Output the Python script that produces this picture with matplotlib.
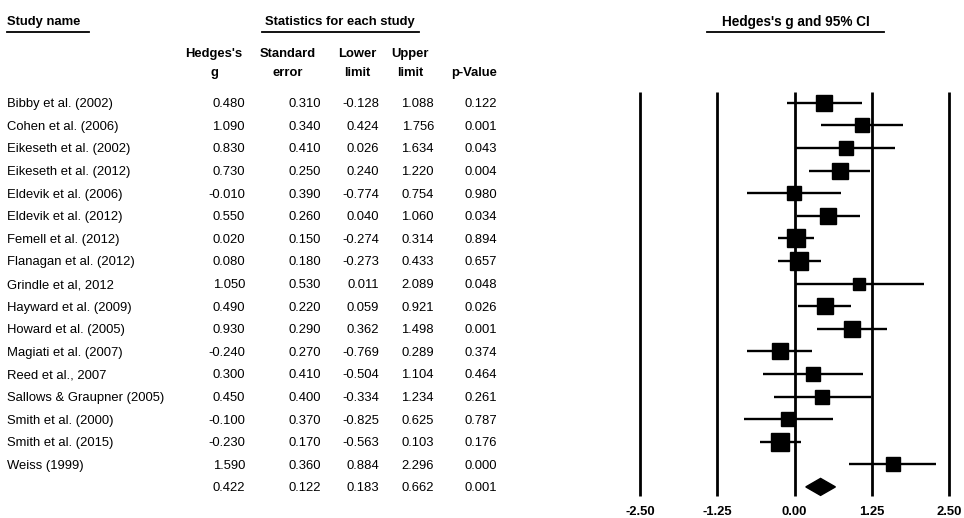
"""Forest plot of Hedges's g per study with a statistics table."""

import matplotlib

matplotlib.use("Agg")
import matplotlib.pyplot as plt
import numpy as np

studies = [
    "Bibby et al. (2002)", "Cohen et al. (2006)", "Eikeseth et al. (2002)",
    "Eikeseth et al. (2012)", "Eldevik et al. (2006)", "Eldevik et al. (2012)",
    "Femell et al. (2012)", "Flanagan et al. (2012)", "Grindle et al, 2012",
    "Hayward et al. (2009)", "Howard et al. (2005)", "Magiati et al. (2007)",
    "Reed et al., 2007", "Sallows & Graupner (2005)", "Smith et al. (2000)",
    "Smith et al. (2015)", "Weiss (1999)",
]
hedges_g = [0.480, 1.090, 0.830, 0.730, -0.010, 0.550, 0.020, 0.080, 1.050,
            0.490, 0.930, -0.240, 0.300, 0.450, -0.100, -0.230, 1.590]
std_err = [0.310, 0.340, 0.410, 0.250, 0.390, 0.260, 0.150, 0.180, 0.530,
           0.220, 0.290, 0.270, 0.410, 0.400, 0.370, 0.170, 0.360]
lower = [-0.128, 0.424, 0.026, 0.240, -0.774, 0.040, -0.274, -0.273, 0.011,
         0.059, 0.362, -0.769, -0.504, -0.334, -0.825, -0.563, 0.884]
upper = [1.088, 1.756, 1.634, 1.220, 0.754, 1.060, 0.314, 0.433, 2.089,
         0.921, 1.498, 0.289, 1.104, 1.234, 0.625, 0.103, 2.296]
p_value = [0.122, 0.001, 0.043, 0.004, 0.980, 0.034, 0.894, 0.657, 0.048,
           0.026, 0.001, 0.374, 0.464, 0.261, 0.787, 0.176, 0.000]

summary = {"g": 0.422, "se": 0.122, "lower": 0.183, "upper": 0.662, "p": 0.001}
x_ticks = [-2.50, -1.25, 0.00, 1.25, 2.50]

FONT = "Liberation Sans"
FS = 9.4
W, H = 964, 518
ROW0, ROW_STEP = 102.7, 22.6  # pixel y of the first row and row spacing


def px_to_row(y_px: float) -> float:
    return (y_px - ROW0) / ROW_STEP


fig = plt.figure(figsize=(W / 100, H / 100), dpi=100)
plt.rcParams["font.family"] = [FONT, "DejaVu Sans"]

ylim = (px_to_row(H), px_to_row(0))

# table on a pixel-wide x scale, rows on the y scale
tab = fig.add_axes([0, 0, 1, 1])
tab.set_xlim(0, W)
tab.set_ylim(*ylim)
tab.axis("off")

head_y = px_to_row(22)
line_y = px_to_row(32)
tab.text(7, head_y, "Study name", fontsize=FS, weight="bold", va="center")
tab.plot([7, 89], [line_y] * 2, color="black", lw=1.3)
tab.text(340, head_y, "Statistics for each study", fontsize=FS, weight="bold",
         va="center", ha="center")
tab.plot([262, 419], [line_y] * 2, color="black", lw=1.3)
tab.text(796, head_y, "Hedges's g and 95% CI", fontsize=FS + 0.4, weight="bold",
         va="center", ha="center")
tab.plot([707, 884], [line_y] * 2, color="black", lw=1.3)

col_heads = [("Hedges's", "g", 214), ("Standard", "error", 288), ("Lower", "limit", 357),
             ("Upper", "limit", 410)]
for top, bottom, cx in col_heads:
    tab.text(cx, px_to_row(52), top, fontsize=FS, weight="bold", ha="center",
             va="center_baseline")
    tab.text(cx, px_to_row(71), bottom, fontsize=FS, weight="bold", ha="center",
             va="center_baseline")
tab.text(497, px_to_row(71), "p-Value", fontsize=FS, weight="bold", ha="right",
         va="center_baseline")

col_right = [245, 321, 379, 434, 497]
for i, name in enumerate(studies):
    tab.text(7, i, name, fontsize=FS, va="center_baseline")
    vals = [hedges_g[i], std_err[i], lower[i], upper[i], p_value[i]]
    for x, v in zip(col_right, vals):
        tab.text(x, i, f"{v:.3f}", fontsize=FS, va="center_baseline", ha="right")

sum_row = len(studies)
for x, key in zip(col_right, ["g", "se", "lower", "upper", "p"]):
    tab.text(x, sum_row, f"{summary[key]:.3f}", fontsize=FS, va="center_baseline",
             ha="right")

# forest plot
x0, x1 = 640, 949
ax = fig.add_axes([x0 / W, 0, (x1 - x0) / W, 1])
ax.set_xlim(x_ticks[0], x_ticks[-1])
ax.set_ylim(*ylim)
ax.axis("off")

ax.vlines(x_ticks, px_to_row(92), px_to_row(496), color="black", lw=2.0, clip_on=False)
for t in x_ticks:
    ax.text(t, px_to_row(512), f"{t:.2f}", fontsize=FS, weight="bold",
            ha="center", va="center", clip_on=False)

rows = np.arange(len(studies))
ax.hlines(rows, lower, upper, color="black", lw=1.7, clip_on=False)

# square side follows the random-effects weight 1 / (se^2 + tau^2)
se = np.asarray(std_err)
side_px = 7.5 / np.sqrt(se ** 2 + 0.15)
for i in rows:
    ax.plot(hedges_g[i], i, marker="s", color="black",
            markersize=side_px[i] * 0.72, clip_on=False)

half_h = 8.5 / ROW_STEP
diamond = plt.Polygon(
    [(summary["lower"], sum_row), (summary["g"], sum_row - half_h),
     (summary["upper"], sum_row), (summary["g"], sum_row + half_h)],
    closed=True, color="black", clip_on=False)
ax.add_patch(diamond)

fig.savefig("out.png", dpi=100)
